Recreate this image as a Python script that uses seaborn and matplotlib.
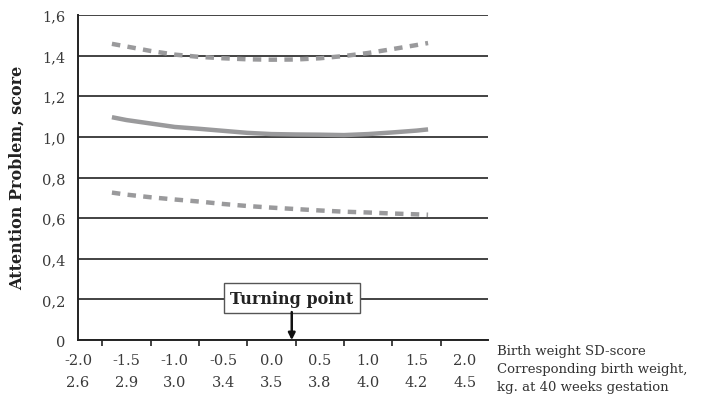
import matplotlib
matplotlib.use("Agg")
import matplotlib.pyplot as plt
import seaborn as sns
import pandas as pd
from matplotlib.ticker import MultipleLocator

# birth weight SD-score where the curves were read
x_sd = [-1.65, -1.5, -1.25, -1.0, -0.75, -0.5, -0.25, 0.0, 0.25, 0.5, 0.75, 1.0, 1.25, 1.5, 1.62]
estimate = [1.097, 1.083, 1.066, 1.049, 1.040, 1.030, 1.020, 1.014, 1.012, 1.011, 1.009, 1.014, 1.022, 1.031, 1.037]
upper_ci = [1.458, 1.445, 1.423, 1.405, 1.394, 1.387, 1.382, 1.380, 1.381, 1.387, 1.398, 1.413, 1.432, 1.452, 1.462]
lower_ci = [0.726, 0.716, 0.703, 0.692, 0.682, 0.670, 0.660, 0.652, 0.645, 0.638, 0.632, 0.628, 0.623, 0.619, 0.617]

sd_ticks = [-2.0, -1.5, -1.0, -0.5, 0.0, 0.5, 1.0, 1.5, 2.0]
sd_labels = ["-2.0", "-1.5", "-1.0", "-0.5", "0.0", "0.5", "1.0", "1.5", "2.0"]
kg_labels = ["2.6", "2.9", "3.0", "3.4", "3.5", "3.8", "4.0", "4.2", "4.5"]
y_ticks = [0, 0.2, 0.4, 0.6, 0.8, 1.0, 1.2, 1.4, 1.6]
y_labels = ["0", "0,2", "0,4", "0,6", "0,8", "1,0", "1,2", "1,4", "1,6"]
turning_point = 0.21

df = pd.DataFrame({"sd": x_sd, "est": estimate, "hi": upper_ci, "lo": lower_ci})

sns.set_style("white")
plt.rcParams["font.family"] = ["DejaVu Serif"]

fig = plt.figure(figsize=(7.23, 4.10), dpi=100)
ax = fig.add_axes([0.108, 0.168, 0.567, 0.794])

line_col = "#9a9a9c"
sns.lineplot(data=df, x="sd", y="est", ax=ax, color=line_col, lw=3.2, solid_capstyle="butt")
sns.lineplot(data=df, x="sd", y="hi", ax=ax, color=line_col, lw=3.2, linestyle=(0, (1.9, 1.65)))
sns.lineplot(data=df, x="sd", y="lo", ax=ax, color=line_col, lw=3.2, linestyle=(0, (1.9, 1.65)))

ax.set_xlim(-2.0, 2.24)
ax.set_ylim(0, 1.602)
ax.set_yticks(y_ticks)
ax.set_yticklabels(y_labels, fontsize=10.5, color="#3a3a3a")
ax.set_xticks(sd_ticks)
ax.set_xticklabels([f"{a}\n{b}" for a, b in zip(sd_labels, kg_labels)],
                   fontsize=10.5, color="#3a3a3a", linespacing=1.75)
ax.xaxis.set_minor_locator(MultipleLocator(0.25))

ax.yaxis.grid(True, color="#222222", lw=1.2)
ax.xaxis.grid(False)
ax.set_axisbelow(True)
ax.tick_params(axis="y", length=0, pad=9)
ax.tick_params(axis="x", which="major", direction="inout", length=10, width=1.2, color="#222222", pad=4)
ax.tick_params(axis="x", which="minor", direction="out", length=4, width=1.2, color="#222222")
ax.tick_params(axis="x", which="minor", bottom=True)

for s in ["top", "right"]:
    ax.spines[s].set_visible(False)
for s in ["left", "bottom"]:
    ax.spines[s].set_color("#222222")
    ax.spines[s].set_linewidth(1.4)

ax.set_xlabel("")
ax.set_ylabel("Attention Problem, score", fontsize=11.5, fontweight="bold", color="#222222", labelpad=12)

ax.text(turning_point, 0.207, "Turning point", ha="center", va="center", fontsize=11.5,
        fontweight="bold", color="#222222", zorder=5,
        bbox=dict(boxstyle="square,pad=0.4", fc="white", ec="#555555", lw=1.0))
ax.annotate("", xy=(turning_point, 0.0), xytext=(turning_point, 0.138),
            arrowprops=dict(arrowstyle="-|>", color="#111111", lw=1.8, mutation_scale=10,
                            shrinkA=0, shrinkB=0), zorder=6)

fig.text(0.687, 0.158, "Birth weight SD-score\nCorresponding birth weight,\nkg. at 40 weeks gestation",
         ha="left", va="top", fontsize=9.5, color="#333333", linespacing=1.5)

fig.savefig("out.png", dpi=100)
